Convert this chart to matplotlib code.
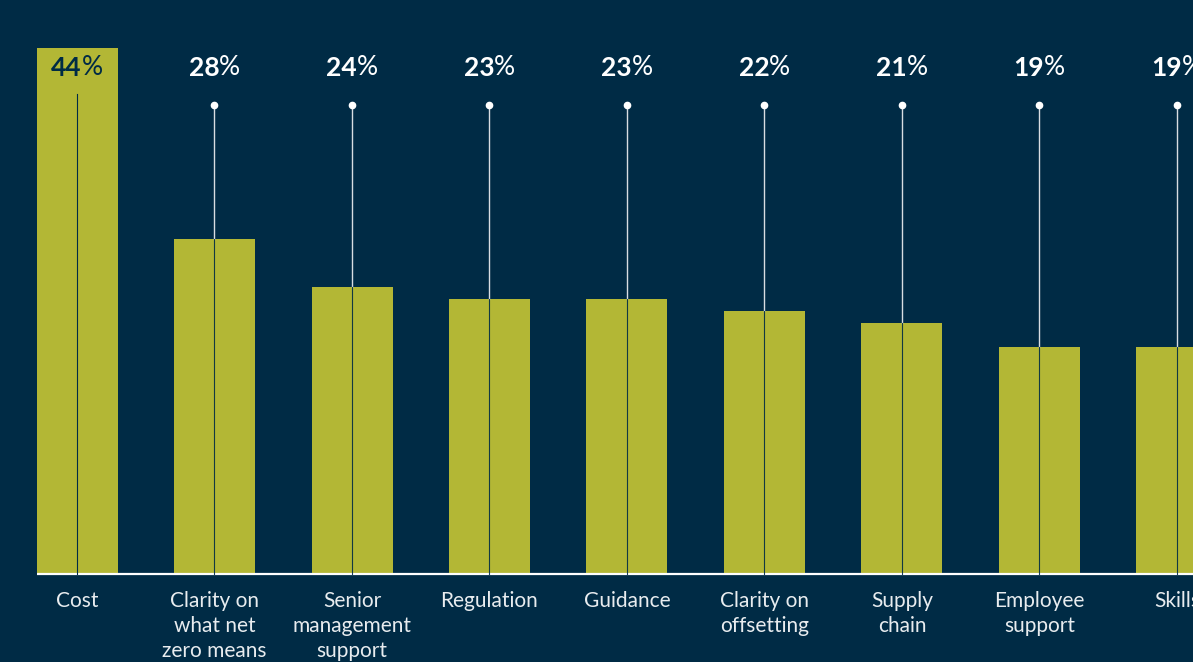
import matplotlib
matplotlib.use("Agg")
import matplotlib.pyplot as plt

categories = ["Cost", "Clarity on\nwhat net\nzero means", "Senior\nmanagement\nsupport",
              "Regulation", "Guidance", "Clarity on\noffsetting", "Supply\nchain",
              "Employee\nsupport", "Skills"]
values = [44, 28, 24, 23, 23, 22, 21, 19, 19]

NAVY = "#002b45"
OLIVE = "#b3b735"
WHITE = "#ffffff"

W, H, DPI = 1193, 662, 100
fig = plt.figure(figsize=(W / DPI, H / DPI), dpi=DPI, facecolor=NAVY)
ax = fig.add_axes([0, 0, 1, 1], facecolor=NAVY)

# scale: bar centres every 137.5 px starting at 77 px; baseline at 574 px from top
px_per_cat = 137.5
px_per_unit = 11.95
x0_px = 77
base_px = 574
ax.set_xlim(-x0_px / px_per_cat, (W - x0_px) / px_per_cat)
ax.set_ylim(-(H - base_px) / px_per_unit, base_px / px_per_unit)
ax.axis("off")

xs = list(range(len(values)))
bar_w = 81 / px_per_cat
ax.bar(xs, values, width=bar_w, color=OLIVE, zorder=2)

# baseline
ax.plot([xs[0] - bar_w / 2, ax.get_xlim()[1]], [0, 0], color=WHITE, lw=1.6,
        solid_capstyle="butt", zorder=3)

stem_top = (base_px - 105) / px_per_unit
label_y = (base_px - 68) / px_per_unit
for x, v in zip(xs, values):
    if v < stem_top:
        ax.plot([x, x], [v, stem_top], color="#d8dde2", lw=1.0, zorder=3)
        ax.plot([x], [stem_top], marker="o", ms=4.5, color=WHITE, zorder=4)
        ax.plot([x, x], [0, v], color=NAVY, lw=0.8, alpha=0.9, zorder=3)
    else:
        ax.plot([x, x], [0, (base_px - 94) / px_per_unit], color=NAVY, lw=0.8, zorder=3)

fig.canvas.draw()
renderer = fig.canvas.get_renderer()
for x, v in zip(xs, values):
    col = NAVY if v >= label_y else WHITE
    num = ax.text(x, label_y, f"{v}", fontsize=19, fontweight="bold", family="Lato",
                  color=col, ha="right", va="center", zorder=5)
    pct = ax.text(x, label_y, "%", fontsize=19, fontweight="normal", family="Lato",
                  color=col, ha="left", va="center", zorder=5)
    wn = num.get_window_extent(renderer).width
    wp = pct.get_window_extent(renderer).width
    shift = (wn - wp) / 2 / px_per_cat
    num.set_x(x + shift)
    pct.set_x(x + shift)

for x, c in zip(xs, categories):
    ax.text(x, -(591 - base_px) / px_per_unit, c, fontsize=15, family="Lato",
            color="#e8ecef", ha="center", va="top", linespacing=1.32)

fig.savefig("out.png", dpi=DPI, facecolor=NAVY)
